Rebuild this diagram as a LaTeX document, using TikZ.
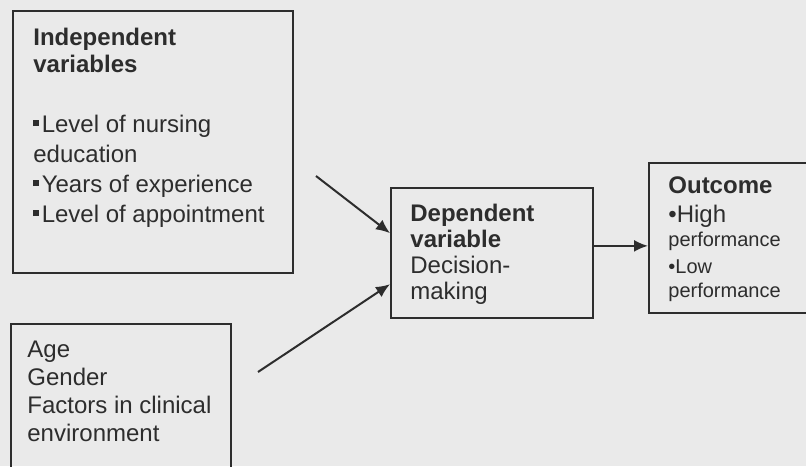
\documentclass[tikz,border=0pt]{standalone}
\usepackage{fontspec}
\setmainfont{Liberation Sans}
\usepackage{tikz}
\usetikzlibrary{positioning,arrows.meta}

\definecolor{paper}{RGB}{234,234,234}
\definecolor{ink}{RGB}{45,45,45}
\newcommand{\sqbul}{\rule[3pt]{3pt}{3pt}\hspace{1.2pt}}

\begin{document}
\begin{tikzpicture}[x=0.5pt,y=-0.5pt,
    box/.style={draw=ink,line width=1pt,inner sep=0pt,anchor=north west},
    txt/.style={text=ink,inner sep=0pt,anchor=base west,align=left,font=\fontsize{12}{14}\selectfont},
    arr/.style={-{Latex[length=7pt,width=6pt]},draw=ink,line width=1pt}]
  \useasboundingbox[fill=paper] (0,0) rectangle (806,466);
  \clip (0,0) rectangle (806,466);
  % boxes
  \node[box,minimum width=140pt,minimum height=131pt] (indep) at (12,10) {};
  \node[box,minimum width=110pt,minimum height=100pt] (other) at (10,323) {};
  \node[box,minimum width=101pt,minimum height=65pt] (dep) at (390,187) {};
  \node[box,minimum width=100pt,minimum height=75pt] (out) at (648,162) {};
  % texts (base = last line)
  \node[txt,font=\fontsize{12}{13.5}\selectfont\bfseries] (indephead) at (33,72) {Independent\\variables};
  \node[txt,font=\fontsize{12}{15}\selectfont] (indeplist) at (33,222)
    {\sqbul Level of nursing\\education\\\sqbul Years of experience\\\sqbul Level of appointment};
  \node[txt] (othertext) at (27,441) {Age\\Gender\\Factors in clinical\\environment};
  \node[txt,font=\fontsize{12}{13}\selectfont] (deptext) at (410,299)
    {\textbf{Dependent}\\\textbf{variable}\\Decision-\\making};
  \node[txt,font=\fontsize{12}{14}\selectfont\bfseries] (outhead) at (668,193) {Outcome};
  \node[txt] (high) at (668,222) {\textbullet High};
  \node[txt,font=\fontsize{10}{12}\selectfont] (highperf) at (668,246) {performance};
  \node[txt,font=\fontsize{10}{12}\selectfont] (low) at (668,273) {\textbullet Low};
  \node[txt,font=\fontsize{10}{12}\selectfont] (lowperf) at (668,297) {performance};
  % arrows
  \coordinate (s1) at (316,176);
  \coordinate (s2) at (258,372);
  \draw[arr] (s1) -- (dep.169);
  \draw[arr] (s2) -- (dep.197);
  \draw[arr] (dep.4) -- (dep.4 -| out.west);
\end{tikzpicture}
\end{document}
